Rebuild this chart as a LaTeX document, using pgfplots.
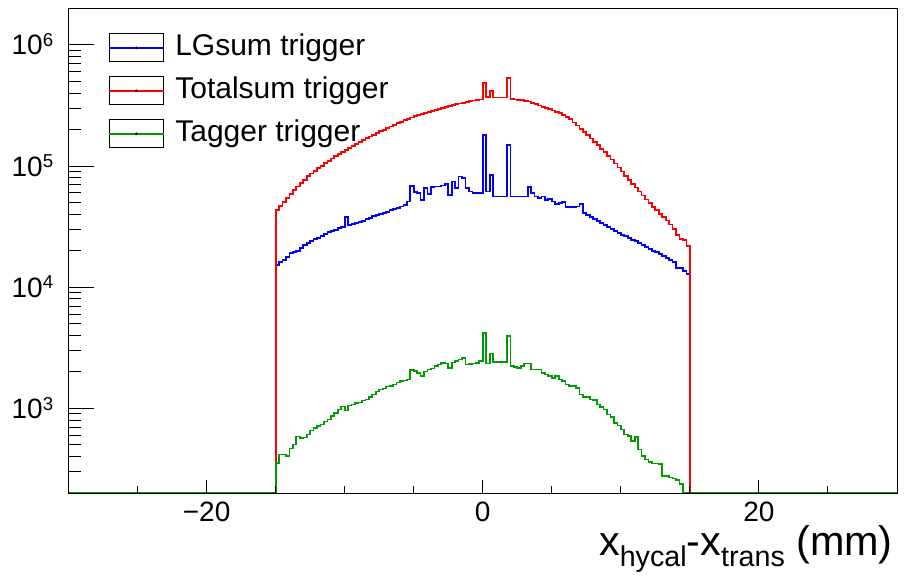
\documentclass[border=0pt]{standalone}
\usepackage{fontspec}
\setmainfont{Liberation Sans}
\usepackage{pgfplots}
\usepackage{pgfplotstable}
\pgfplotsset{compat=1.18}
\definecolor{rblue}{RGB}{0,0,255}
\definecolor{rred}{RGB}{255,0,0}
\definecolor{rgreen}{RGB}{0,155,0}
\newcommand{\tsup}[1]{\raisebox{6.2pt}{\fontsize{14}{14}\selectfont #1}}
\newcommand{\tsub}[1]{\raisebox{-8.3pt}{\fontsize{21.5}{21.5}\selectfont #1}}
\newcommand{\legimg}[1]{%
  \draw[black, line width=0.75pt] (0pt,-12.4pt) rectangle (41pt,8.6pt);
  \draw[#1, line width=1.3pt] (0pt,-1.9pt) -- (41pt,-1.9pt);
  \fill[black] (20.5pt,-1.9pt) circle (0.8pt);}
\pgfplotstableread{
x blue red green
-30 200 200 200
-15.00 15350 43600 356
-14.75 16100 47000 417
-14.50 16890 50600 417
-14.25 17710 54600 404
-14.00 19290 58800 467
-13.75 19660 63500 504
-13.50 20040 67800 587
-13.25 21210 72300 572
-13.00 22240 77300 576
-12.75 23320 82400 609
-12.50 24220 87100 657
-12.25 24920 91400 692
-12.00 25640 96000 713
-11.75 26380 100700 737
-11.50 27660 105700 780
-11.25 28460 110400 810
-11.00 29280 115300 862
-10.75 29850 120500 920
-10.50 30700 125600 979
-10.25 31590 131200 1037
-10.00 37840 136500 961
-9.75 32510 141900 1057
-9.50 33130 147200 1077
-9.25 33760 153100 1108
-9.00 34410 158900 1119
-8.75 35410 164400 1162
-8.50 36430 169800 1184
-8.25 37270 175800 1242
-8.00 38570 181600 1302
-7.75 39670 187900 1378
-7.50 40440 194100 1432
-7.25 41210 200000 1459
-7.00 42000 206500 1515
-6.75 43620 212800 1524
-6.50 44460 219300 1574
-6.25 45310 225900 1635
-6.00 46440 232300 1676
-5.75 47980 239300 1698
-5.50 51080 246000 1731
-5.25 68160 252300 2065
-5.00 60810 257600 2034
-4.75 59900 263000 1966
-4.50 52750 269200 1843
-4.25 66240 274800 2015
-4.00 59100 279900 2093
-3.75 67500 285800 2133
-3.50 67890 291100 2228
-3.25 67890 297200 2301
-3.00 69200 302700 2376
-2.75 71470 307600 2345
-2.50 57990 312600 2161
-2.25 74640 317700 2390
-2.00 66240 323600 2450
-1.75 82100 329600 2530
-1.50 80080 334200 2613
-1.25 66240 338800 2301
-1.00 61740 343600 2323
-0.75 59900 348300 2345
-0.50 59900 351600 2376
-0.25 59900 354000 2450
0.00 181100 483100 4200
0.25 61740 369800 2345
0.50 84780 419800 2836
0.75 56150 368100 2404
1.00 56150 368100 2404
1.25 56150 368100 2404
1.50 56150 368100 2404
1.75 149800 530900 3954
2.00 56150 356500 2228
2.25 56150 354800 2203
2.50 56150 351600 2161
2.75 56150 349100 2228
3.00 56150 345100 2345
3.25 67500 341200 2345
3.50 59900 333400 2093
3.75 56150 325100 2093
4.00 54470 316200 2093
4.25 56150 308300 1966
4.50 52750 301300 1903
4.75 53440 294400 1843
5.00 51080 287700 1788
5.25 48890 280500 1843
5.50 49550 273500 1731
5.75 50310 263600 1676
6.00 45920 254700 1574
6.25 45920 243800 1524
6.50 45920 229600 1524
6.75 46440 216300 1478
7.00 48890 203700 1302
7.25 40980 191400 1246
7.50 39300 180300 1242
7.75 37840 169400 1184
8.00 36430 158500 1168
8.25 35070 148600 1077
8.50 34090 139000 1031
8.75 32820 130300 979
9.00 31590 121900 891
9.25 30410 113200 853
9.50 29280 105000 761
9.75 28180 97300 723
10.00 27140 90200 670
10.25 26380 83400 609
10.50 25400 77300 590
10.75 24690 71600 537
11.00 23990 66500 583
11.25 23100 61700 458
11.50 22240 57300 404
11.75 21410 53100 379
12.00 20620 49300 360
12.25 20040 46100 351
12.50 19480 43300 351
12.75 18920 40500 345
13.00 18220 37900 276
13.25 17540 35600 276
13.50 16890 33000 268
13.75 16260 30300 263
14.00 14370 26900 256
14.25 14510 25100 236
14.50 13700 24500 200
14.75 12950 21800 200
15.00 200 200 200
30.00 200 200 200
}\histdata

\begin{document}
\begin{tikzpicture}
\begin{axis}[
  at={(0pt,0pt)}, anchor=south west,
  scale only axis, width=621.4pt, height=363.4pt,
  xmin=-30, xmax=30, ymin=200, ymax=2e6, ymode=log,
  axis line style={line width=0.75pt},
  tick align=inside, tick pos=left,
  xtick=\empty,
  ytick={1000,10000,100000,1000000},
  yticklabels={10\tsup{3},10\tsup{4},10\tsup{5},10\tsup{6}},
  minor ytick={300,400,500,600,700,800,900,2000,3000,4000,5000,6000,7000,8000,9000,20000,30000,40000,50000,60000,70000,80000,90000,200000,300000,400000,500000,600000,700000,800000,900000},
  major tick length=18.75pt, minor tick length=9.5pt,
  tick style={line width=0.75pt, black},
  ticklabel style={font=\fontsize{21}{21}\selectfont},
  yticklabel style={anchor=base east, inner sep=0pt, xshift=-11.3pt, yshift=-7.5pt},
  legend style={at={(0.0476,0.9494)}, anchor=north west, draw=none, fill=none, inner sep=0pt, row sep=10.5pt, font=\fontsize{22.5}{22.5}\selectfont, nodes={inner xsep=8pt, inner ysep=0pt}},
  legend cell align=left,
]
\addplot[rblue, line width=1.3pt, const plot, forget plot] table[x=x, y=blue] {\histdata};
\addplot[rred, line width=1.3pt, const plot, forget plot] table[x=x, y=red] {\histdata};
\addplot[rgreen, line width=1.3pt, const plot, forget plot] table[x=x, y=green] {\histdata};
\addlegendimage{legend image code/.code={\legimg{rblue}}}
\addlegendentry{LGsum trigger}
\addlegendimage{legend image code/.code={\legimg{rred}}}
\addlegendentry{Totalsum trigger}
\addlegendimage{legend image code/.code={\legimg{rgreen}}}
\addlegendentry{Tagger trigger}
\end{axis}
\begin{axis}[
  at={(0pt,0pt)}, anchor=south west,
  scale only axis, width=621.4pt, height=363.4pt,
  xmin=-30, xmax=30, ymin=0, ymax=1,
  axis line style={line width=0.75pt},
  tick align=inside, tick pos=left,
  ytick=\empty,
  xtick={-20,0,20}, xticklabels={−20,0,20},
  minor xtick={-25,-15,-10,-5,5,10,15,25},
  major tick length=9.75pt, minor tick length=5pt,
  tick style={line width=0.75pt, black},
  ticklabel style={font=\fontsize{21}{21}\selectfont},
  xticklabel style={anchor=base, inner sep=0pt, yshift=-21.5pt},
  xlabel={x\tsub{hycal}-x\tsub{trans} (mm)},
  xlabel style={at={(axis description cs:1,0)}, anchor=base east, inner sep=0pt, yshift=-46.5pt, xshift=-3pt, font=\fontsize{31}{31}\selectfont},
]
\end{axis}
\pgfresetboundingbox
\path[use as bounding box] (-51.4pt,-62.25pt) rectangle (626.65pt,369.8pt);
\end{tikzpicture}
\end{document}
